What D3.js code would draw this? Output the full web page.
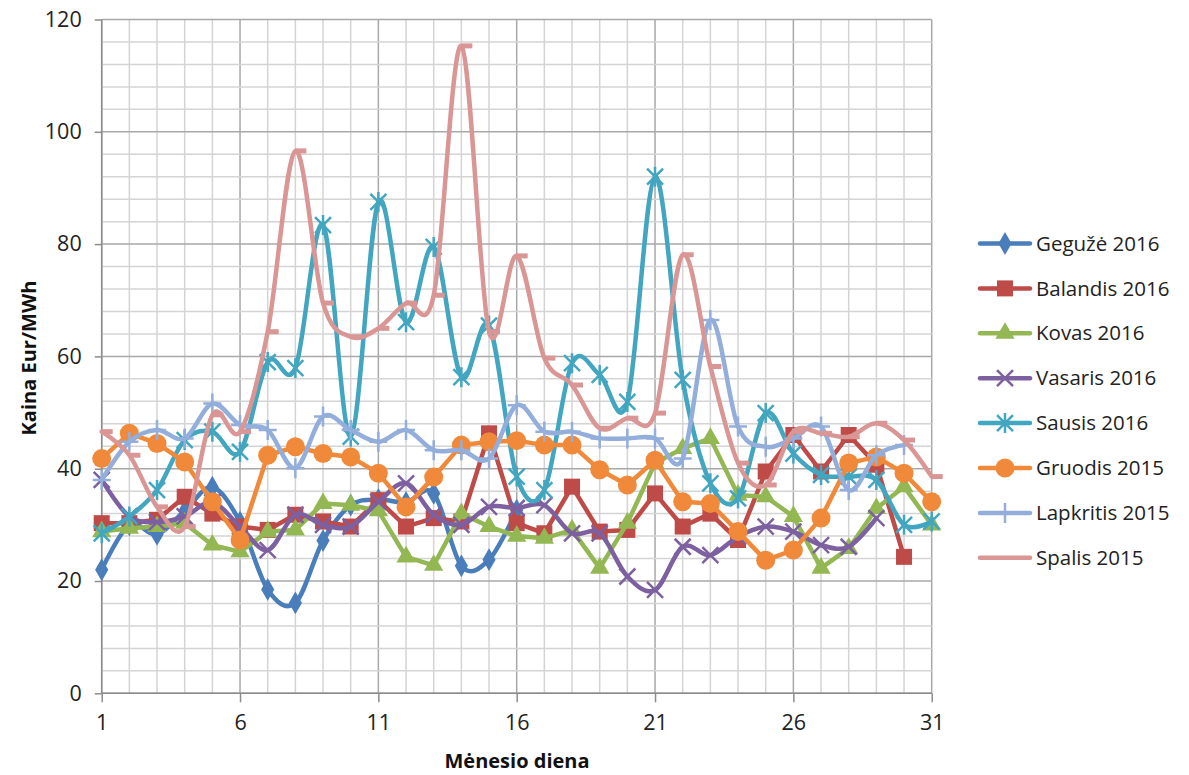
<!DOCTYPE html>
<html>
<head>
<meta charset="utf-8">
<script src="https://cdn.jsdelivr.net/npm/d3@7"></script>
<style>
  body { margin: 0; background: #fff; }
  svg { display: block; font-family: "Open Sans", sans-serif; }
</style>
</head>
<body>
<div id="chart"></div>
<script>
// dienos ir kainos (Eur/MWh), nuskaityta nuo paveikslo
const geguze2016 = [22, 30, 28.3, 32.5, 36.7, 30.5, 18.5, 16.1, 27.2, 33.5, 34.5, 34, 35.6, 22.7, 23.8, 32.6];
const balandis2016 = [30.3, 30.3, 30.9, 35, 32, 29.7, 29.1, 31.8, 30.6, 29.7, 34.4, 29.7, 31.2, 30.6, 46.3, 30.3,
  28.5, 36.8, 28.8, 29.1, 35.6, 29.7, 32, 27.3, 39.5, 46, 39.5, 46, 40.7, 24.3];
const kovas2016 = [28.8, 29.4, 29.7, 30.3, 26.4, 25.2, 28.8, 29.1, 33.8, 33.5, 32.5, 24.3, 22.8, 32, 29.7, 28,
  27.6, 29.1, 22.3, 30.3, 41, 43.6, 45.4, 35.3, 35, 31.5, 22.3, 25.8, 32.9, 36.8, 30];
const vasaris2016 = [38, 31.5, 30.5, 31.5, 34, 29.7, 25.5, 31.8, 30, 29.7, 34.1, 37.4, 31.8, 30, 33.2, 33,
  33.5, 28.5, 28.5, 20.8, 18.4, 26.1, 24.6, 27.9, 29.7, 28.8, 26.4, 26.1, 31.2];
const sausis2016 = [28.5, 31.5, 36.2, 45.1, 46.6, 43, 59, 57.9, 83.4, 45.7, 87.5, 66.1, 79.5, 56.3, 65.5, 38.6,
  36.2, 58.8, 56.7, 51.9, 92, 55.8, 37.4, 34.7, 49.9, 42.7, 38.9, 38.6, 38, 30, 30.6];
const gruodis2015 = [41.8, 46.3, 44.5, 41.2, 34.1, 27.3, 42.4, 43.9, 42.7, 42.1, 39.2, 33.2, 38.5, 44.2, 44.8, 45,
  44.2, 44.2, 39.8, 37.1, 41.5, 34.1, 33.8, 28.8, 23.7, 25.5, 31.2, 41, 42.1, 39.2, 34.1];
const lapkritis2015 = [38, 44.8, 46.9, 45.4, 51.6, 47.8, 46.9, 40.1, 49.3, 46.9, 44.8, 46.9, 43.3, 43.3, 41.8, 51.3,
  46.6, 46.6, 45.4, 45.4, 45.4, 41.8, 66.5, 47.5, 43.9, 45.4, 47.5, 36.2, 42.4, 44.2];
const spalis2015 = [46.6, 42.4, 33.2, 29.7, 49.6, 46.6, 64.4, 96.6, 69.5, 63.5, 65, 69.5, 70.9, 115.3, 64.4, 77.9,
  59.7, 54.9, 47.2, 49, 49.9, 78.1, 58.2, 41, 37.1, 46.6, 46.3, 45.7, 48.1, 45.1, 38.6];

const seriesNames = ["Gegužė 2016", "Balandis 2016", "Kovas 2016", "Vasaris 2016",
  "Sausis 2016", "Gruodis 2015", "Lapkritis 2015", "Spalis 2015"];
const seriesValues = [geguze2016, balandis2016, kovas2016, vasaris2016,
  sausis2016, gruodis2015, lapkritis2015, spalis2015];
const seriesColors = ["#4a7ebb", "#be4b48", "#93b853", "#7d60a0", "#43a6c0", "#f08a3a", "#93aedb", "#d99694"];
const seriesMarkers = ["diamond", "square", "triangle", "x", "star", "circle", "plus", "dash"];
const seriesSmooth = [true, false, false, true, true, false, true, true];

const xTicks = [1, 6, 11, 16, 21, 26, 31];
const yTicks = [0, 20, 40, 60, 80, 100, 120];

const width = 1189, height = 775;
const plotLeft = 101.7, plotRight = 931.7, plotTop = 19.5, plotBottom = 693.3;

const svg = d3.select("#chart").append("svg")
  .attr("width", width).attr("height", height);

const x = d3.scaleLinear().domain([1, 31]).range([plotLeft, plotRight]);
const y = d3.scaleLinear().domain([0, 120]).range([plotBottom, plotTop]);

// tinklelis
const grid = svg.append("g");
grid.selectAll("line.minx").data(d3.range(1, 32)).enter().append("line")
  .attr("x1", d => x(d)).attr("x2", d => x(d))
  .attr("y1", plotTop).attr("y2", plotBottom)
  .attr("stroke", d => (d - 1) % 5 === 0 ? "#a8a8a8" : "#d4d4d4")
  .attr("stroke-width", 1.5);
grid.selectAll("line.miny").data(d3.range(0, 121, 4)).enter().append("line")
  .attr("x1", plotLeft).attr("x2", plotRight)
  .attr("y1", d => y(d)).attr("y2", d => y(d))
  .attr("stroke", d => d % 20 === 0 ? "#a8a8a8" : "#d4d4d4")
  .attr("stroke-width", 1.5);

// ašys
const yAxis = d3.axisLeft(y).tickValues(yTicks).tickSize(7).tickPadding(13);
svg.append("g").attr("transform", `translate(${plotLeft},0)`).call(yAxis)
  .call(g => g.selectAll("line,path").attr("stroke", "#8c8c8c").attr("stroke-width", 1.5))
  .call(g => g.select(".domain").attr("d", `M0,${plotTop}V${plotBottom}`))
  .call(g => g.selectAll("text").attr("font-size", 21.5).attr("fill", "#222")
    .attr("font-family", "Open Sans, sans-serif"));

const xAxis = d3.axisBottom(x).tickValues(xTicks).tickSize(9).tickPadding(12);
svg.append("g").attr("transform", `translate(0,${plotBottom})`).call(xAxis)
  .call(g => g.selectAll("line,path").attr("stroke", "#8c8c8c").attr("stroke-width", 1.5))
  .call(g => g.select(".domain").attr("d", `M${plotLeft},0H${plotRight}`))
  .call(g => g.selectAll("text").attr("font-size", 21.5).attr("fill", "#222")
    .attr("font-family", "Open Sans, sans-serif"));

svg.append("text")
  .attr("transform", "translate(36,358) rotate(-90)")
  .attr("text-anchor", "middle")
  .attr("font-size", 20).attr("font-weight", "bold").attr("fill", "#111")
  .text("Kaina Eur/MWh");
svg.append("text")
  .attr("x", 517).attr("y", 768)
  .attr("text-anchor", "middle")
  .attr("font-size", 20).attr("font-weight", "bold").attr("fill", "#111")
  .text("Mėnesio diena");

function drawMarker(g, type, color) {
  if (type === "diamond") {
    g.append("path").attr("d", d3.symbol(d3.symbolDiamond, 150)()).attr("fill", color);
  } else if (type === "square") {
    g.append("rect").attr("x", -8).attr("y", -8).attr("width", 16).attr("height", 16).attr("fill", color);
  } else if (type === "triangle") {
    g.append("path").attr("d", d3.symbol(d3.symbolTriangle, 160)()).attr("fill", color);
  } else if (type === "circle") {
    g.append("circle").attr("r", 9.5).attr("fill", color);
  } else if (type === "x") {
    g.append("path").attr("d", "M-8,-8L8,8M-8,8L8,-8")
      .attr("stroke", color).attr("stroke-width", 2.5).attr("fill", "none");
  } else if (type === "star") {
    g.append("path").attr("d", "M-8,-8L8,8M-8,8L8,-8M0,-10V10")
      .attr("stroke", color).attr("stroke-width", 2.5).attr("fill", "none");
  } else if (type === "plus") {
    g.append("path").attr("d", "M-9,0H9M0,-10V10")
      .attr("stroke", color).attr("stroke-width", 2.5).attr("fill", "none");
  } else if (type === "dash") {
    g.append("path").attr("d", "M0,0H11")
      .attr("stroke", color).attr("stroke-width", 5).attr("fill", "none");
  }
}

// serijos
seriesValues.forEach((vals, i) => {
  const pts = vals.map((v, k) => [k + 1, v]);
  const line = d3.line()
    .x(d => x(d[0])).y(d => y(d[1]))
    .curve(seriesSmooth[i] ? d3.curveCatmullRom.alpha(0) : d3.curveLinear);
  const g = svg.append("g");
  g.append("path").datum(pts)
    .attr("d", line)
    .attr("fill", "none")
    .attr("stroke", seriesColors[i])
    .attr("stroke-width", 4.5)
    .attr("stroke-linejoin", "round")
    .attr("stroke-linecap", "round");
  g.selectAll("g.m").data(pts).enter().append("g")
    .attr("transform", d => `translate(${x(d[0])},${y(d[1])})`)
    .each(function () { drawMarker(d3.select(this), seriesMarkers[i], seriesColors[i]); });
});

// legenda
const legend = svg.append("g");
seriesNames.forEach((name, i) => {
  const ly = 243.5 + i * 44.9;
  const g = legend.append("g").attr("transform", `translate(980,${ly})`);
  g.append("line").attr("x1", 0).attr("x2", 50).attr("y1", 0).attr("y2", 0)
    .attr("stroke", seriesColors[i]).attr("stroke-width", 4.5).attr("stroke-linecap", "round");
  const m = g.append("g").attr("transform", "translate(25,0)");
  if (seriesMarkers[i] !== "dash") drawMarker(m, seriesMarkers[i], seriesColors[i]);
  g.append("text").attr("x", 56).attr("y", 0).attr("dy", "0.35em")
    .attr("font-size", 20.5).attr("fill", "#222")
    .text(name);
});
</script>
</body>
</html>
